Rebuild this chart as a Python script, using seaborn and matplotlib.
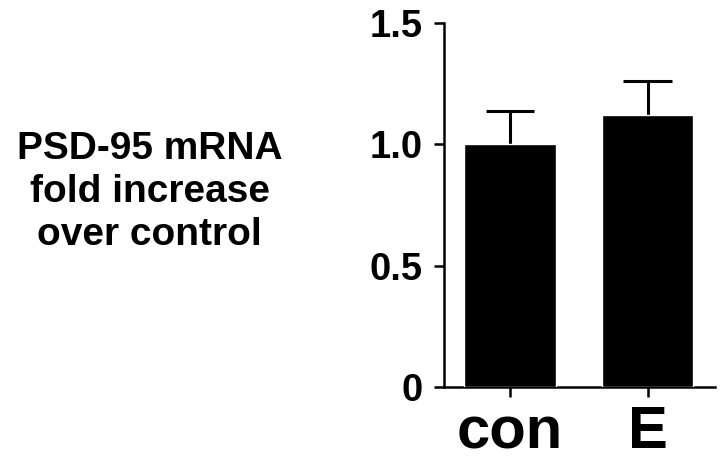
import pandas as pd
import matplotlib
matplotlib.use("Agg")
import matplotlib.pyplot as plt
import seaborn as sns

# valeurs
groups = ["con", "E"]
fold_change = [1.0, 1.12]
sem_upper = [0.137, 0.14]
ylabel_text = "PSD-95 mRNA\nfold increase\nover control"

df = pd.DataFrame({"group": groups, "fold": fold_change})

sns.set_style("ticks")
plt.rcParams["font.family"] = ["Liberation Sans", "DejaVu Sans"]
plt.rcParams["font.weight"] = "bold"
plt.rcParams["text.color"] = "black"
plt.rcParams["axes.labelcolor"] = "black"
plt.rcParams["xtick.color"] = "black"
plt.rcParams["ytick.color"] = "black"

fig = plt.figure(figsize=(7.2, 4.66), dpi=100)
ax = fig.add_axes([0.6165, 0.1695, 0.3765, 0.781])

sns.barplot(data=df, x="group", y="fold", color="black", saturation=1,
            width=0.667, errorbar=None, ax=ax, zorder=3)

# barres d'erreur vers le haut seulement (tige + chapeau)
xpos = list(range(len(groups)))
tops = [m + e for m, e in zip(fold_change, sem_upper)]
ax.vlines(xpos, fold_change, tops, color="black", linewidth=2.2, zorder=2)
ax.hlines(tops, [x - 0.175 for x in xpos], [x + 0.175 for x in xpos],
          color="black", linewidth=2.2, zorder=2)

ax.set_ylim(0, 1.5)
ax.set_xlim(-0.48, 1.49)
ax.set_yticks([0, 0.5, 1.0, 1.5])
ax.set_yticklabels(["0", "0.5", "1.0", "1.5"])

ax.tick_params(axis="y", labelsize=27.5, length=7, width=1.8, pad=8.5)
ax.tick_params(axis="x", labelsize=43, length=7, width=1.8, pad=6)
for lbl in ax.get_xticklabels() + ax.get_yticklabels():
    lbl.set_fontweight("bold")

sns.despine(ax=ax)
for side in ["left", "bottom"]:
    ax.spines[side].set_linewidth(1.8)
    ax.spines[side].set_color("black")

ax.set_xlabel("")
ax.set_ylabel(ylabel_text, rotation=0, fontsize=28, fontweight="bold",
              ha="center", va="center", linespacing=1.25)
ax.yaxis.set_label_coords(-1.085, 0.535)

fig.savefig("out.png", dpi=100)
